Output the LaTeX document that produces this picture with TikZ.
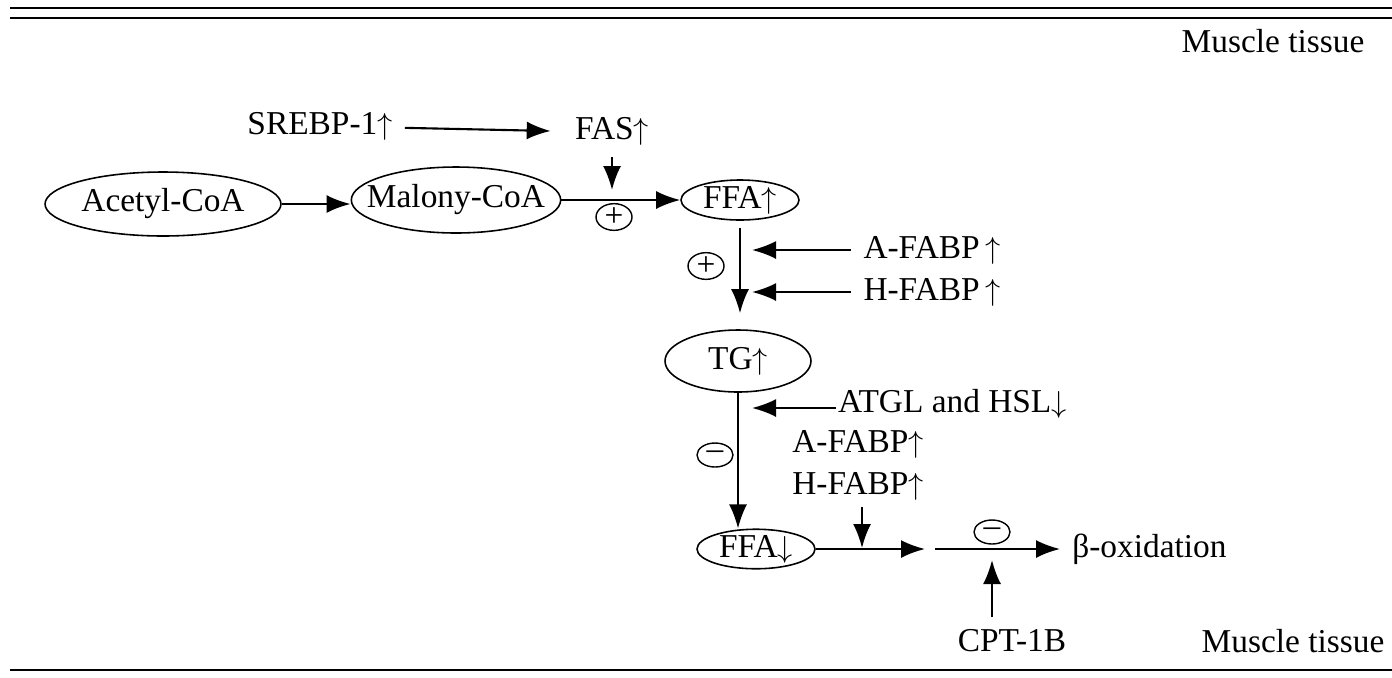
\documentclass[tikz,border=0pt]{standalone}
\usepackage{fontspec}
\setmainfont{Liberation Serif}
\usepackage{tikz}
\usetikzlibrary{positioning, shapes, shapes.geometric, arrows.meta, calc}
\newcommand{\up}{\ensuremath{\uparrow}}
\newcommand{\down}{\ensuremath{\downarrow}}

\begin{document}
\begin{tikzpicture}[
x=0.02cm, y=-0.02cm,
font=\fontsize{19}{22}\selectfont,
    met/.style = {ellipse, draw, line width=0.9pt, inner sep=0pt, inner xsep=-0.3cm},
    lbl/.style = {inner sep=0.24cm},
    tight/.style = {inner sep=1pt},
    sign/.style = {ellipse, draw, line width=0.8pt, inner sep=0pt,
        minimum width=0.72cm, minimum height=0.48cm},
    arr/.style={-{Latex[length=0.48cm, width=0.36cm]}, line width=1.2pt},
    rule/.style={line width=1.1pt},
]
\useasboundingbox (0,0) rectangle (1392,677);

% rules
\draw[rule] (10,8) -- (1392,8);
\draw[rule] (10,18) -- (1392,18);
\draw[rule] (10,670) -- (1392,670);

\node[inner sep=0pt] (mtop) at (1273,41) {Muscle tissue};
\node[inner sep=0pt] (mbot) at (1293,641) {Muscle tissue};

% metabolites
\node[met, minimum width=4.72cm, minimum height=1.28cm] (acetyl) at (163,204) {Acetyl-CoA};
\node[met, minimum width=4.04cm, minimum height=1.32cm] (malony) at (456,200) {Malony-CoA};
\node[met, minimum width=2.36cm, minimum height=0.8cm] (ffaup) at (740,200) {FFA\up};
\node[met, minimum width=2.92cm, minimum height=1.24cm] (tg) at (738,361) {TG\up};
\node[met, minimum width=2.36cm, minimum height=0.76cm] (ffadown) at (756,549) {FFA\down};

% regulators
\node[lbl] (srebp) at (320,126) {SREBP-1\up};
\node[lbl] (fas) at (612,131) {FAS\up};
\node[lbl] (afabpa) at (932,250) {A-FABP\,\up};
\node[lbl] (hfabpa) at (932,292) {H-FABP\,\up};
\node[tight, anchor=west] (atgl) at (836,404) {ATGL and HSL\down};
\node[tight] (afabpb) at (858,444) {A-FABP\up};
\node[tight] (hfabpb) at (858,486) {H-FABP\up};
\node[lbl, anchor=west] (beta) at (1060,549) {β-oxidation};
\node[lbl] (cpt) at (1012,641) {CPT-1B};

% signs
\node[sign] (plusa) at (614,217) {+};
\node[sign] (plusb) at (706,266) {+};
\node[sign] (minusa) at (715,455) {–};
\node[sign] (minusb) at (992,532) {–};

% junctions
\coordinate (jfas) at (612,190);
\coordinate (ja) at (752,250);
\coordinate (jb) at (752,292);
\coordinate (jc) at (752,408);
\coordinate (jd) at (862,548);
\coordinate (je) at (925,549);
\coordinate (jf) at (935,549);
\coordinate (jg) at (992,560);

\draw[arr] (srebp) -- ([xshift=-0.24cm]fas.west);
\draw[arr] (fas) -- (jfas);
\draw[arr] (acetyl.east) -- (acetyl.east -| malony.west);
\draw[arr] (malony) -- (ffaup);
\draw[arr, shorten <=0.14cm, shorten >=0.32cm] (ffaup.south) -- (ffaup.south |- tg.north);
\draw[arr] (afabpa.west) -- (ja);
\draw[arr] (hfabpa.west) -- (jb);
\draw[arr] (tg.south) -- (tg.south |- ffadown.north);
\draw[arr] (atgl.west |- jc) -- (jc);
\draw[arr, shorten <=0.1cm] (hfabpb.south -| jd) -- (jd);
\draw[arr] (ffadown.east) -- (je);
\draw[arr] (jf) -- (beta);
\draw[arr] (cpt.north -| jg) -- (jg);

\end{tikzpicture}
\end{document}
